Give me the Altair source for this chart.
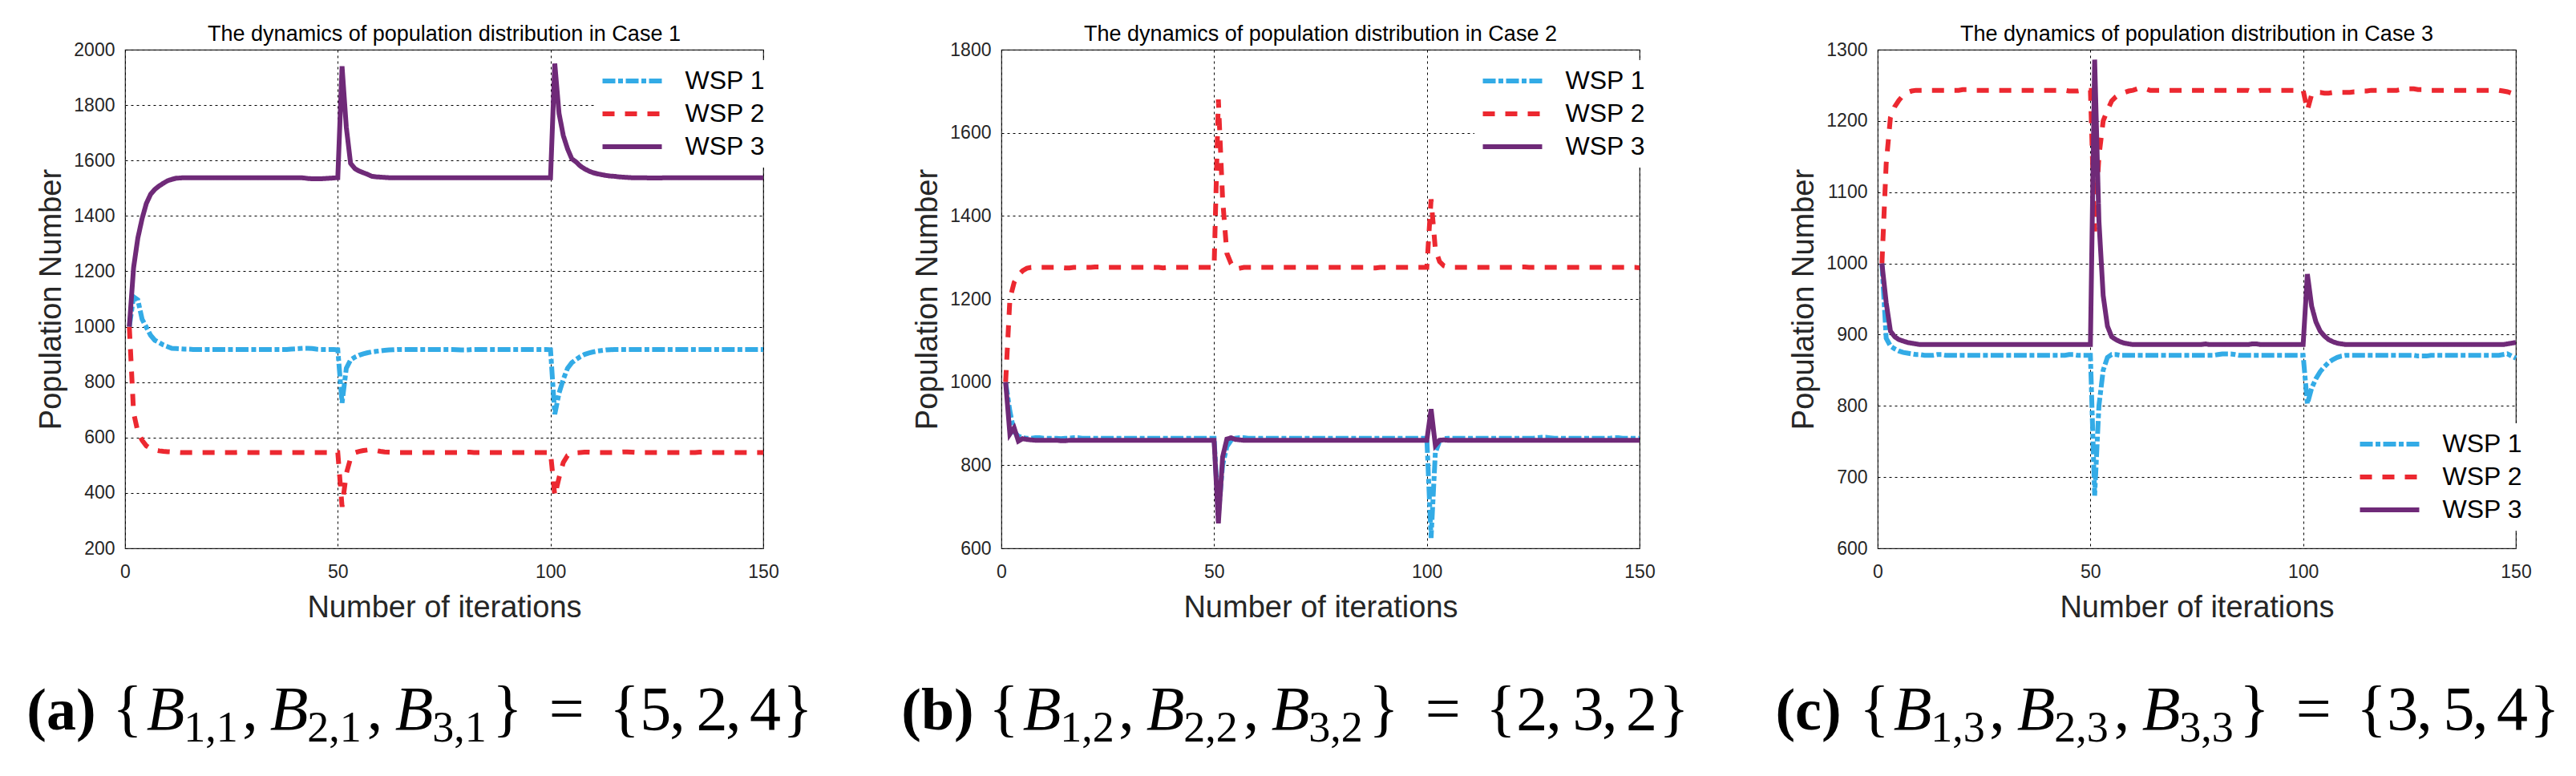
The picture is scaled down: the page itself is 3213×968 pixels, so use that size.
import altair as alt
import pandas as pd

iterations = list(range(1, 151))
series_names = ["WSP 1", "WSP 2", "WSP 3"]
series_colors = ["#33abe6", "#ec2830", "#6f2a78"]
series_dashes = [[16, 3.5, 6, 3.5], [15, 13], [1, 0]]

# ---- Case 1 ----
case1_wsp1 = [
    1000, 1108, 1097, 1027, 998, 969, 951, 943, 934, 928,
    922, 921, 920, 919, 919, 918, 918, 918, 918, 918,
    918, 918, 918, 918, 918, 918, 918, 918, 918, 918,
    918, 918, 918, 918, 918, 918, 918, 918, 919, 920,
    921, 922, 922, 921, 919, 918, 918, 918, 918, 917,
    725, 850, 880, 890, 897, 902, 906, 909, 911, 913,
    915, 916, 917, 918, 918, 918, 918, 918, 918, 918,
    918, 918, 918, 918, 918, 918, 918, 917, 916, 916,
    917, 918, 918, 918, 918, 918, 918, 918, 918, 918,
    918, 918, 918, 918, 918, 918, 918, 918, 918, 917,
    684, 760, 810, 850, 870, 882, 892, 900, 905, 909,
    912, 914, 916, 917, 918, 918, 918, 918, 918, 918,
    918, 918, 918, 918, 918, 918, 918, 918, 918, 918,
    918, 918, 918, 918, 918, 918, 918, 918, 918, 918,
    918, 918, 918, 918, 918, 918, 918, 918, 918, 918,
]
case1_wsp2 = [
    1000, 690, 620, 590, 570, 560, 555, 552, 550, 549,
    548, 547, 546, 546, 546, 546, 546, 546, 546, 546,
    546, 546, 546, 546, 546, 546, 547, 547, 546, 546,
    546, 546, 546, 546, 546, 546, 546, 546, 546, 546,
    546, 546, 546, 546, 546, 546, 546, 546, 546, 546,
    350, 470, 525, 545, 550, 553, 555, 556, 553, 550,
    548, 547, 546, 546, 546, 546, 546, 546, 546, 546,
    546, 546, 546, 546, 546, 546, 546, 546, 546, 547,
    547, 546, 546, 546, 546, 546, 546, 546, 546, 546,
    546, 546, 546, 546, 546, 546, 546, 546, 546, 546,
    390, 455, 510, 535, 542, 545, 546, 547, 547, 546,
    546, 546, 546, 546, 546, 547, 548, 548, 547, 546,
    546, 546, 546, 546, 546, 546, 546, 546, 546, 546,
    546, 546, 546, 546, 547, 547, 546, 546, 546, 546,
    546, 546, 546, 546, 546, 546, 546, 546, 546, 546,
]
case1_wsp3 = [
    1000, 1213, 1320, 1390, 1445, 1478, 1496, 1508, 1518, 1527,
    1532, 1536, 1537, 1538, 1538, 1538, 1538, 1538, 1538, 1538,
    1538, 1538, 1538, 1538, 1538, 1538, 1538, 1538, 1538, 1538,
    1538, 1538, 1538, 1538, 1538, 1538, 1538, 1538, 1538, 1538,
    1538, 1537, 1535, 1534, 1534, 1534, 1535, 1536, 1537, 1538,
    1940, 1720, 1590, 1571, 1562, 1556, 1550, 1543, 1541, 1540,
    1539, 1538, 1538, 1538, 1538, 1538, 1538, 1538, 1538, 1538,
    1538, 1538, 1538, 1538, 1538, 1538, 1538, 1538, 1538, 1538,
    1538, 1538, 1538, 1538, 1538, 1538, 1538, 1538, 1538, 1538,
    1538, 1538, 1538, 1538, 1538, 1538, 1538, 1538, 1538, 1538,
    1950, 1770, 1690, 1642, 1606, 1595, 1580, 1570, 1562, 1556,
    1552, 1549, 1546, 1544, 1543, 1541, 1540, 1539, 1538, 1538,
    1538, 1538, 1537, 1537, 1537, 1537, 1538, 1538, 1538, 1538,
    1538, 1538, 1538, 1538, 1538, 1538, 1538, 1538, 1538, 1538,
    1538, 1538, 1538, 1538, 1538, 1538, 1538, 1538, 1538, 1538,
]

# ---- Case 2 ----
case2_wsp1 = [
    1000, 930, 880, 870, 866, 865, 865, 866, 866, 865,
    865, 865, 865, 864, 865, 865, 866, 866, 865, 865,
    865, 865, 865, 865, 865, 865, 865, 865, 865, 865,
    865, 865, 865, 865, 865, 865, 865, 865, 865, 865,
    865, 865, 865, 865, 865, 865, 865, 865, 865, 865,
    680, 800, 845, 860, 865, 866, 866, 865, 865, 865,
    865, 865, 865, 865, 865, 865, 865, 865, 865, 865,
    865, 865, 865, 865, 865, 865, 865, 865, 865, 865,
    865, 865, 865, 865, 865, 865, 865, 865, 865, 865,
    865, 865, 865, 865, 865, 865, 865, 865, 865, 865,
    625, 830, 858, 864, 865, 865, 865, 865, 865, 865,
    865, 865, 865, 865, 865, 865, 865, 865, 865, 865,
    865, 865, 865, 865, 865, 866, 867, 867, 866, 865,
    865, 865, 865, 865, 865, 865, 865, 865, 865, 865,
    865, 865, 865, 866, 866, 865, 865, 865, 865, 865,
]
case2_wsp2 = [
    1000, 1200, 1240, 1258, 1268, 1274, 1276, 1276, 1276, 1276,
    1276, 1276, 1276, 1276, 1275, 1275, 1276, 1276, 1276, 1276,
    1276, 1277, 1277, 1276, 1276, 1276, 1276, 1276, 1276, 1276,
    1276, 1276, 1276, 1276, 1276, 1276, 1276, 1275, 1276, 1276,
    1276, 1276, 1276, 1276, 1276, 1276, 1276, 1276, 1276, 1276,
    1680, 1440, 1310, 1285, 1272, 1274, 1276, 1276, 1276, 1276,
    1276, 1276, 1276, 1276, 1276, 1276, 1276, 1276, 1276, 1276,
    1276, 1276, 1276, 1276, 1276, 1276, 1276, 1276, 1276, 1276,
    1276, 1276, 1276, 1276, 1276, 1276, 1275, 1275, 1276, 1276,
    1276, 1276, 1276, 1276, 1276, 1276, 1276, 1276, 1276, 1276,
    1440, 1320, 1290, 1280, 1277, 1276, 1276, 1276, 1276, 1276,
    1276, 1276, 1276, 1276, 1276, 1276, 1276, 1276, 1276, 1276,
    1276, 1277, 1277, 1276, 1276, 1276, 1276, 1276, 1276, 1276,
    1276, 1276, 1276, 1276, 1276, 1276, 1276, 1276, 1276, 1276,
    1276, 1276, 1276, 1276, 1276, 1276, 1276, 1276, 1276, 1275,
]
case2_wsp3 = [
    1000, 875, 890, 858, 864, 862, 861, 860, 860, 860,
    860, 860, 860, 859, 859, 860, 860, 860, 860, 860,
    860, 860, 860, 860, 860, 860, 860, 860, 860, 860,
    860, 860, 860, 860, 860, 860, 860, 860, 860, 860,
    860, 860, 860, 860, 860, 860, 860, 860, 860, 860,
    660, 820, 863, 866, 862, 861, 860, 860, 860, 860,
    860, 860, 860, 860, 860, 860, 860, 860, 860, 860,
    860, 860, 860, 860, 860, 860, 860, 860, 860, 860,
    860, 860, 860, 860, 860, 860, 860, 860, 860, 860,
    860, 860, 860, 860, 860, 860, 860, 860, 860, 860,
    935, 848, 860, 861, 860, 860, 860, 860, 860, 860,
    860, 860, 860, 860, 860, 860, 860, 860, 860, 860,
    860, 860, 860, 860, 860, 860, 860, 860, 860, 860,
    860, 860, 860, 860, 860, 860, 860, 860, 860, 860,
    860, 860, 860, 860, 860, 860, 860, 860, 860, 860,
]

# ---- Case 3 ----
case3_wsp1 = [
    1000, 895, 884, 880, 877, 875, 874, 873, 872, 872,
    871, 871, 871, 872, 872, 871, 871, 871, 871, 871,
    871, 871, 871, 871, 871, 871, 871, 871, 871, 871,
    871, 871, 871, 871, 871, 871, 871, 871, 871, 871,
    871, 871, 871, 871, 872, 872, 871, 871, 871, 871,
    674, 800, 850, 868, 872, 872, 871, 871, 871, 871,
    871, 871, 871, 871, 871, 871, 871, 871, 871, 871,
    871, 871, 871, 871, 871, 871, 871, 871, 871, 872,
    873, 873, 873, 872, 871, 871, 871, 871, 871, 871,
    871, 871, 871, 871, 871, 871, 871, 871, 871, 871,
    803, 825, 838, 848, 855, 861, 865, 868, 870, 871,
    871, 871, 871, 871, 871, 871, 871, 871, 871, 871,
    871, 871, 871, 871, 871, 871, 870, 870, 870, 871,
    871, 871, 871, 871, 871, 871, 871, 871, 871, 871,
    871, 871, 871, 871, 871, 871, 872, 873, 870, 867,
]
case3_wsp2 = [
    1000, 1140, 1205, 1220, 1229, 1236, 1240, 1242, 1243, 1243,
    1243, 1243, 1243, 1243, 1243, 1243, 1243, 1243, 1243, 1244,
    1244, 1243, 1243, 1243, 1243, 1243, 1243, 1243, 1243, 1243,
    1243, 1243, 1243, 1243, 1243, 1243, 1243, 1243, 1243, 1243,
    1243, 1243, 1243, 1243, 1242, 1242, 1242, 1243, 1243, 1243,
    1045, 1150, 1200, 1215, 1228, 1234, 1238, 1240, 1242, 1243,
    1245, 1246, 1245, 1243, 1243, 1243, 1243, 1243, 1243, 1243,
    1243, 1243, 1243, 1243, 1243, 1243, 1243, 1243, 1243, 1243,
    1243, 1243, 1243, 1243, 1243, 1243, 1243, 1241, 1241, 1243,
    1243, 1243, 1243, 1243, 1243, 1243, 1243, 1243, 1243, 1243,
    1215, 1237, 1240, 1240, 1239, 1239, 1240, 1240, 1240, 1240,
    1240, 1241, 1241, 1242, 1242, 1243, 1243, 1243, 1243, 1243,
    1243, 1243, 1244, 1245, 1245, 1245, 1244, 1244, 1243, 1243,
    1243, 1243, 1243, 1243, 1243, 1243, 1243, 1243, 1243, 1243,
    1243, 1243, 1243, 1243, 1243, 1243, 1242, 1241, 1239, 1237,
]
case3_wsp3 = [
    1000, 945, 905, 897, 893, 891, 889, 888, 887, 886,
    886, 886, 886, 886, 886, 886, 886, 886, 886, 886,
    886, 886, 886, 886, 886, 886, 886, 886, 886, 886,
    886, 886, 886, 886, 886, 886, 886, 886, 886, 886,
    886, 886, 886, 886, 886, 886, 886, 886, 886, 886,
    1286, 1060, 955, 912, 897, 893, 890, 888, 887, 886,
    886, 886, 886, 886, 886, 886, 886, 886, 886, 886,
    886, 886, 886, 886, 886, 886, 887, 886, 886, 886,
    886, 886, 886, 886, 886, 886, 886, 887, 887, 886,
    886, 886, 886, 886, 886, 886, 886, 886, 886, 886,
    985, 940, 918, 905, 898, 893, 890, 888, 887, 886,
    886, 886, 886, 886, 886, 886, 886, 886, 886, 886,
    886, 886, 886, 886, 886, 886, 886, 886, 886, 886,
    886, 886, 886, 886, 886, 886, 886, 886, 886, 886,
    886, 886, 886, 886, 886, 886, 886, 887, 888, 889,
]

panel_series = [
    [case1_wsp1, case1_wsp2, case1_wsp3],
    [case2_wsp1, case2_wsp2, case2_wsp3],
    [case3_wsp1, case3_wsp2, case3_wsp3],
]
panel_titles = [
    "The dynamics of population distribution in Case 1",
    "The dynamics of population distribution in Case 2",
    "The dynamics of population distribution in Case 3",
]
y_domains = [[200, 2000], [600, 1800], [600, 1300]]
y_ticks = [
    [200, 400, 600, 800, 1000, 1200, 1400, 1600, 1800, 2000],
    [600, 800, 1000, 1200, 1400, 1600, 1800],
    [600, 700, 800, 900, 1000, 1100, 1200, 1300],
]
x_ticks = [0, 50, 100, 150]

caption_labels = ["(a)", "(b)", "(c)"]
caption_subscripts = [["1,1", "2,1", "3,1"], ["1,2", "2,2", "3,2"], ["1,3", "2,3", "3,3"]]
caption_values = [["5", "2", "4"], ["2", "3", "2"], ["3", "5", "4"]]

# layout (pixels, relative to each plot's top-left corner)
W, H = 796, 622
legend_pos = [(585, 13), (590, 13), (591, 466)]
caption_shift = [0, 0, -7]
SANS = "Liberation Sans"
SERIF = "Liberation Serif"
MAIN_BASE, SUB_BASE = 848, 863

one_row = alt.Data(values=[{"k": 0}])


def label(text, x, y, font, size, weight="normal", style="normal", color="black"):
    return alt.Chart(one_row).mark_text(
        font=font, fontSize=size, fontWeight=weight, fontStyle=style,
        align="center", baseline="alphabetic", color=color,
    ).encode(x=alt.value(x), y=alt.value(y), text=alt.value(text))


def caption(k):
    s = caption_shift[k]
    subs, vals = caption_subscripts[k], caption_values[k]
    styles = {
        "label": dict(size=74, weight="bold", y=MAIN_BASE),
        "var": dict(size=78, style="italic", y=MAIN_BASE),
        "sym": dict(size=78, y=MAIN_BASE),
        "sub": dict(size=54, y=SUB_BASE),
    }
    parts = [
        (caption_labels[k], -79.5, "label"), ("{", 3, "sym"),
        ("B", 50.5, "var"), (subs[0], 107, "sub"), (",", 156, "sym"),
        ("B", 204.7, "var"), (subs[1], 261, "sub"), (",", 311.5, "sym"),
        ("B", 360.5, "var"), (subs[2], 417, "sub"), ("}", 477, "sym"),
        ("=", 550.7, "sym"), ("{", 623, "sym"),
        (vals[0], 661.8, "sym"), (",", 689, "sym"),
        (vals[1], 732, "sym"), (",", 758.7, "sym"),
        (vals[2], 798.5, "sym"), ("}", 839, "sym"),
    ]
    return [label(t, x + s, font=SERIF, **styles[st]) for t, x, st in parts]


def panel(k):
    rows = []
    for name, values in zip(series_names, panel_series[k]):
        rows += [{"iteration": i, "value": v, "series": name} for i, v in zip(iterations, values)]
    df = pd.DataFrame(rows)

    lx, ly = legend_pos[k]
    legend = alt.Legend(
        title=None, orient="none", legendX=lx, legendY=ly,
        fillColor="white", padding=10, rowPadding=9,
        labelFont=SANS, labelFontSize=32, labelColor="black", labelLimit=0,
        symbolType="M-3,0H3", symbolSize=608, symbolStrokeWidth=6,
        symbolOffset=21.5, labelOffset=50,
    )
    axis_style = dict(
        grid=True, gridDash=[3, 4], gridColor="black", gridWidth=1,
        ticks=False, domain=False, labelFlush=False, labelOverlap=False, format="d",
        labelFont=SANS, labelFontSize=23, labelColor="#262626",
        titleFont=SANS, titleFontSize=38, titleFontWeight="normal", titleColor="#262626",
    )
    lines = alt.Chart(df).mark_line(strokeWidth=6).encode(
        x=alt.X(
            "iteration:Q",
            scale=alt.Scale(domain=[0, 150], nice=False),
            axis=alt.Axis(values=x_ticks, title="Number of iterations",
                          labelPadding=18, titlePadding=14, **axis_style),
        ),
        y=alt.Y(
            "value:Q",
            scale=alt.Scale(domain=y_domains[k], nice=False, zero=False),
            axis=alt.Axis(values=y_ticks[k], title="Population Number",
                          labelPadding=13, titlePadding=8, **axis_style),
        ),
        color=alt.Color(
            "series:N", scale=alt.Scale(domain=series_names, range=series_colors), legend=legend
        ),
        strokeDash=alt.StrokeDash(
            "series:N", scale=alt.Scale(domain=series_names, range=series_dashes), legend=legend
        ),
    )
    heading = label(panel_titles[k], W / 2, -11, font=SANS, size=27)
    return alt.layer(lines, heading, *caption(k)).properties(width=W, height=H)


chart = (
    alt.hconcat(panel(0), panel(1), panel(2), spacing=297, bounds="flush")
    .resolve_scale(color="independent", strokeDash="independent")
    .configure(background="white", padding={"left": 24, "top": 20, "right": 5, "bottom": 5})
    .configure_view(stroke="#262626", strokeWidth=1.2)
)

chart.save("out.html", embed_options={"renderer": "svg", "actions": False})
